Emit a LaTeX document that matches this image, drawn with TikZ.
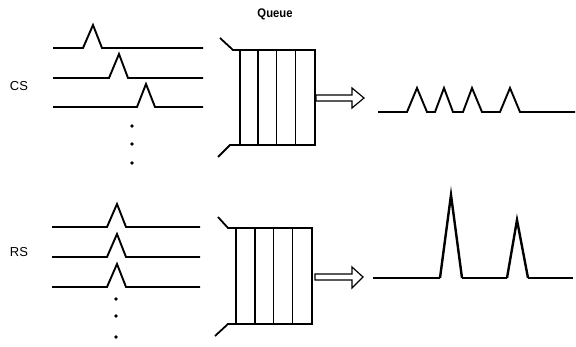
\documentclass[tikz,border=0pt]{standalone}
\usepackage{fontspec}
\setmainfont{Liberation Sans}
\begin{document}
\begin{tikzpicture}[x=1pt,y=-1pt,
  sig/.style={line width=1.9pt,line join=miter},
  bigsig/.style={line width=2.4pt,line join=miter},
  boxline/.style={line width=1.8pt},
  cellline/.style={line width=1.6pt},
  flap/.style={line width=1.8pt},
  hollow/.style={line width=1.2pt,fill=white,line join=miter},
  dot/.style={circle,fill=black,inner sep=0pt,minimum size=3.8pt},
  lbl/.style={font=\fontsize{13}{13}\selectfont,inner sep=0pt},
  qlbl/.style={font=\bfseries\fontsize{12.5}{12.5}\selectfont,xscale=0.9,inner sep=0pt}]
\useasboundingbox (0,0) rectangle (576,347);

% ---------- labels ----------
\node[lbl] (cs) at (19,86) {CS};
\node[lbl] (rs) at (19,252) {RS};
\node[qlbl] (queue) at (275,14) {Queue};

% ---------- CS input channels ----------
\draw[sig] (53,48) -- (83,48) -- (93,25) -- (102,48) -- (203,48);
\draw[sig] (53,78) -- (109,78) -- (119,54) -- (128,78) -- (203,78);
\draw[sig] (53,107) -- (137,107) -- (146,84) -- (155,107) -- (203,107);
\node[dot] (cd1) at (132,126) {};
\node[dot] (cd2) at (132,144) {};
\node[dot] (cd3) at (132,163) {};

% ---------- CS queue ----------
\draw[boxline] (240,50) rectangle (315,145);
\foreach \xx in {258,276.5,295.5}
  \draw[cellline] (\xx,50) -- (\xx,145);
\draw[flap] (220,38) -- (233,50) -- (240,50);
\draw[flap] (218,157) -- (230,145) -- (240,145);

% ---------- CS output ----------
\draw[hollow] (316,95) -- (352,95) -- (352,88) -- (364,98) -- (352,108) -- (352,101) -- (316,101) -- cycle;
\draw[sig] (378,112) -- (407,112) -- (417,88) -- (427,112) -- (435,112)
  -- (444,88) -- (453,112) -- (463,112) -- (472,88) -- (482,112)
  -- (500,112) -- (510,88) -- (520,112) -- (575,112);

% ---------- RS input channels ----------
\draw[sig] (52,227) -- (107,227) -- (117,204) -- (126,227) -- (200,227);
\draw[sig] (52,257) -- (107,257) -- (117,234) -- (126,257) -- (200,257);
\draw[sig] (52,287) -- (107,287) -- (117,264) -- (126,287) -- (200,287);
\node[dot] (rd1) at (116,299) {};
\node[dot] (rd2) at (116,316) {};
\node[dot] (rd3) at (116,337) {};

% ---------- RS queue ----------
\draw[boxline] (236,228) rectangle (312,324);
\foreach \xx in {255,273.5,292.5}
  \draw[cellline] (\xx,228) -- (\xx,324);
\draw[flap] (218,217) -- (228,228) -- (236,228);
\draw[flap] (215,336) -- (228,324) -- (236,324);

% ---------- RS output ----------
\draw[hollow] (315,274) -- (352,274) -- (352,267) -- (363,277) -- (352,288) -- (352,280) -- (315,280) -- cycle;
\draw[sig] (373,278) -- (440,278);
\draw[bigsig] (440,278) -- (451,195) -- (462,278);
\draw[sig] (462,278) -- (507,278);
\draw[bigsig] (507,278) -- (517,220) -- (528,278);
\draw[sig] (528,278) -- (573,278);
\end{tikzpicture}
\end{document}
